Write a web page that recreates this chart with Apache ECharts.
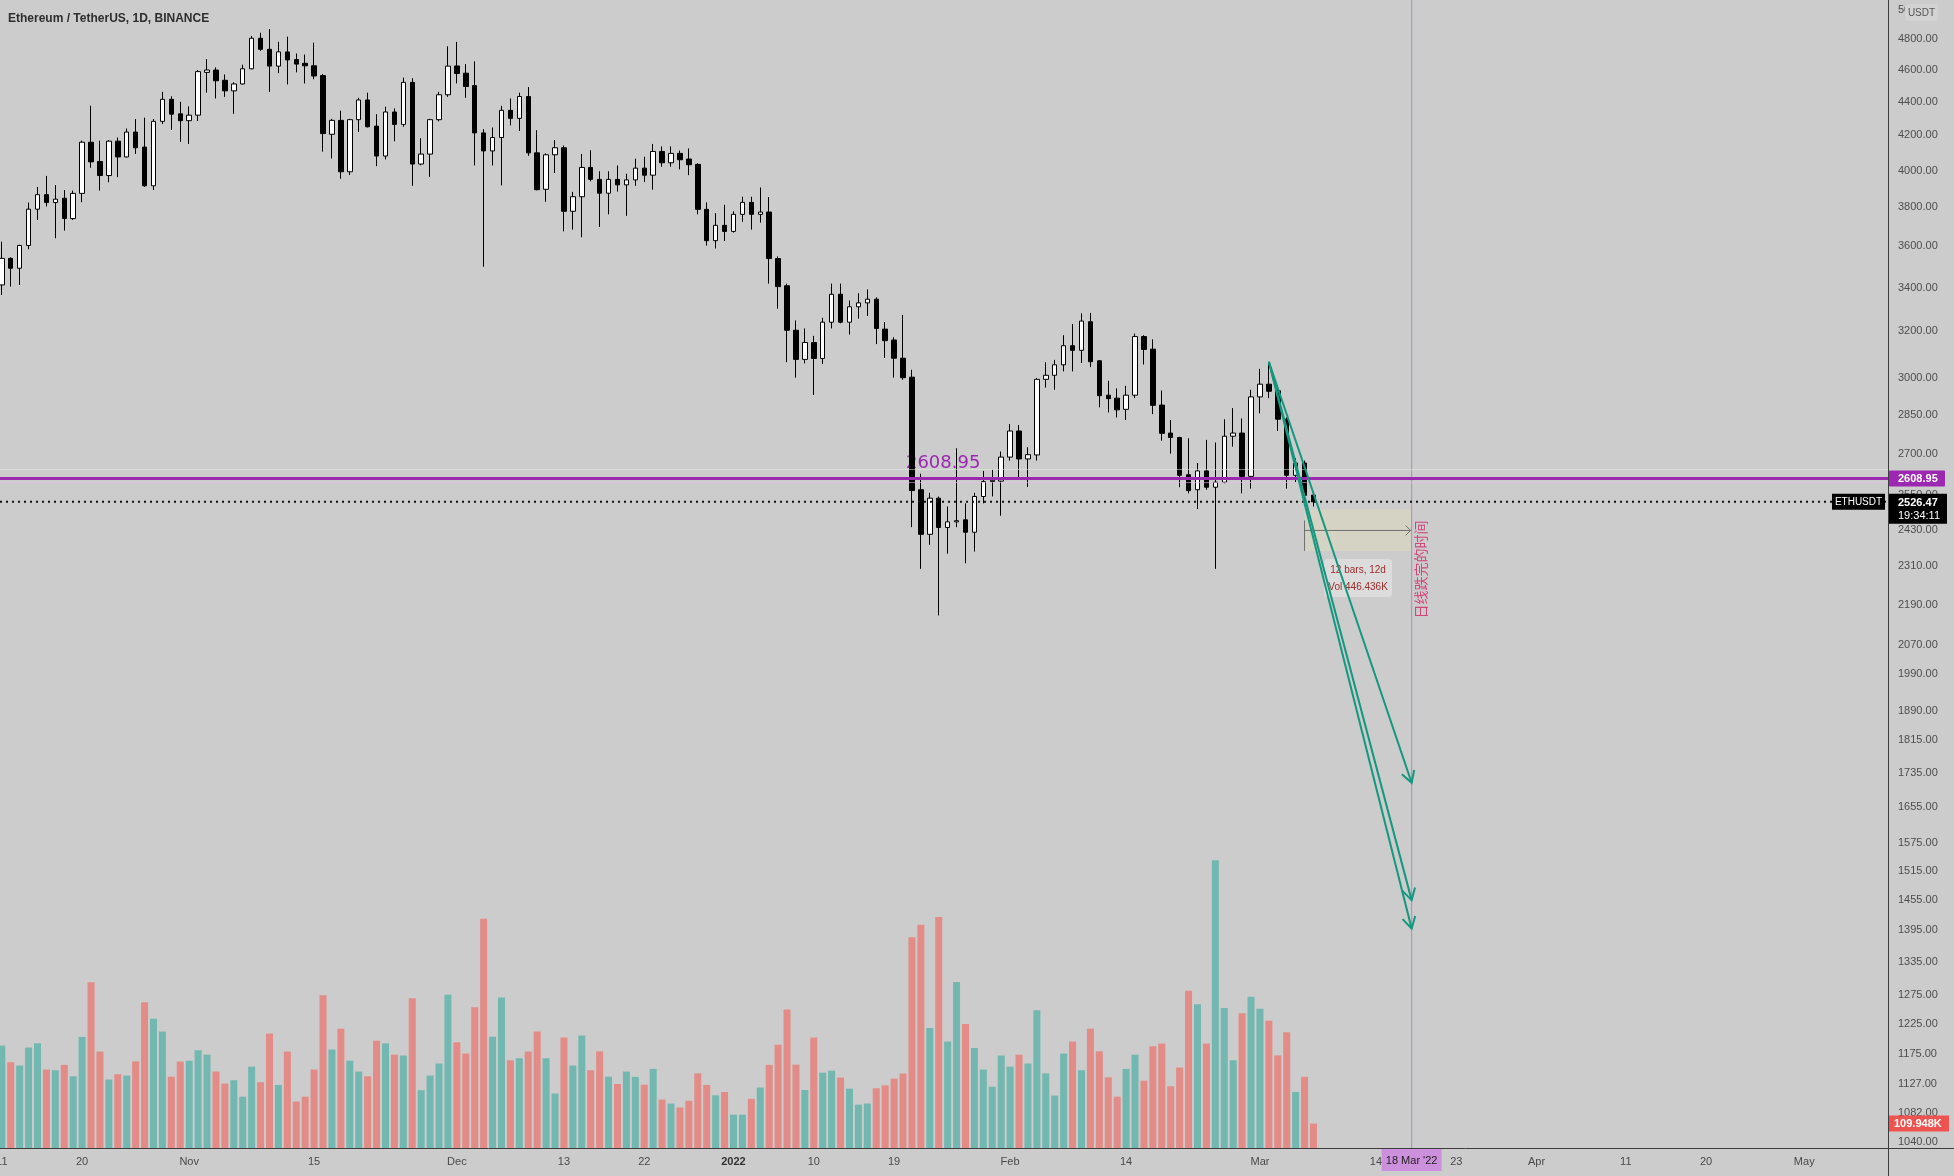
<!DOCTYPE html>
<html>
<head>
<meta charset="utf-8">
<script src="https://cdn.jsdelivr.net/npm/echarts@6/dist/echarts.min.js"></script>
<style>
html,body{margin:0;padding:0;background:#cccccc;}
#c{width:1954px;height:1176px;}
</style>
</head>
<body>
<div id="c"></div>
<script>
// ---------- consecutive trading days (category axis) ----------
const firstDay = '2021-10-11';
const dayCount = 212;
const dates = [];
(function () {
  const t0 = Date.parse(firstDay + 'T00:00:00Z');
  for (let i = 0; i < dayCount; i++) dates.push(new Date(t0 + i * 86400000).toISOString().slice(0, 10));
})();

// ---------- daily candles Oct 11 2021 .. Mar 7 2022 ----------
const open = [3413,3541,3493,3605,3791,3868,3826,3849,3742,3875,
4160,4050,3972,4166,4076,4219,4132,3916,4282,4415,
4327,4286,4319,4583,4598,4533,4467,4510,4606,4805,
4732,4623,4715,4665,4641,4625,4563,4206,4288,3993,
4292,4411,4254,4081,4338,4264,4520,4036,4092,4292,
4443,4624,4578,4500,4214,4110,4187,4348,4300,4432,
4099,3897,4088,4128,3780,3857,4017,3951,3876,3951,
3921,3948,4013,3974,4107,4043,4096,4064,4034,3790,
3629,3707,3676,3764,3827,3764,3776,3540,3409,3205,
3078,3151,3082,3241,3369,3241,3311,3329,3346,3210,
3162,3083,3003,2569,2415,2539,2438,2457,2464,2422,
2545,2598,2600,2688,2787,2681,2696,2994,3011,3055,
3137,3117,3243,3072,2929,2917,2872,2929,3177,3122,
2889,2779,2762,2623,2569,2637,2578,2596,2767,2779,
2617,2922,2974,2947,2833,2621,2666,2550];
const high = [3624,3546,3608,3826,3910,3970,3920,3893,3890,4169,
4376,4169,4173,4187,4240,4296,4304,4296,4461,4434,
4400,4372,4598,4668,4615,4570,4520,4632,4820,4842,
4867,4782,4816,4705,4698,4776,4573,4297,4346,4297,
4425,4456,4325,4370,4360,4550,4546,4183,4297,4461,
4752,4781,4636,4654,4236,4246,4375,4420,4456,4491,
4230,4096,4172,4141,3883,4093,4114,3996,3996,4028,
3982,4066,4077,4150,4136,4136,4112,4124,4040,3827,
3770,3814,3780,3857,3857,3907,3855,3551,3419,3249,
3213,3180,3261,3419,3419,3340,3374,3392,3355,3242,
3174,3274,3034,2627,2558,2545,2510,2721,2521,2558,
2637,2641,2709,2814,2810,2725,3000,3066,3076,3183,
3233,3281,3283,3075,2988,2957,2967,3190,3183,3165,
2948,2830,2765,2759,2666,2753,2743,2833,2877,2836,
2951,3038,3064,2971,2840,2684,2675,2556];
const low = [3366,3405,3413,3586,3735,3805,3641,3680,3735,3828,
4015,3890,3935,3963,4073,4093,3910,3893,4266,4231,
4162,4150,4284,4456,4420,4430,4327,4507,4603,4722,
4461,4578,4507,4583,4513,4540,4106,4067,3954,3975,
4220,4246,4024,4062,4165,4250,3916,4029,3965,4282,
4430,4513,4424,4028,3500,4028,3918,4258,4225,4082,
3891,3830,3986,3676,3685,3646,3940,3699,3764,3885,
3756,3916,3936,3895,4021,4021,4006,3974,3764,3604,
3590,3627,3670,3725,3685,3721,3419,3302,3066,3001,
3061,2930,3058,3213,3236,3186,3257,3269,3144,3084,
3001,2992,2439,2302,2380,2158,2351,2439,2320,2358,
2521,2545,2478,2675,2610,2579,2675,2960,2951,3027,
3027,3063,3045,2880,2860,2840,2830,2917,3056,2853,
2750,2701,2578,2556,2501,2569,2302,2592,2727,2556,
2573,2856,2917,2787,2573,2596,2525,2510];
const close = [3541,3493,3605,3791,3868,3826,3844,3742,3875,4160,
4048,3972,4166,4076,4219,4128,3916,4282,4415,4325,
4286,4319,4588,4598,4530,4467,4510,4606,4805,4732,
4623,4715,4663,4636,4625,4560,4210,4288,3993,4292,
4411,4250,4081,4338,4264,4520,4036,4092,4292,4443,
4623,4576,4494,4214,4110,4187,4348,4300,4432,4099,
3895,4088,4128,3780,3857,4017,3951,3876,3951,3921,
3948,4013,3974,4107,4043,4096,4060,4032,3790,3629,
3707,3676,3764,3827,3764,3776,3540,3405,3205,3078,
3151,3082,3241,3369,3241,3311,3329,3346,3213,3159,
3083,3001,2566,2415,2539,2438,2457,2461,2422,2545,
2598,2603,2688,2787,2681,2697,2994,3011,3055,3137,
3117,3246,3068,2927,2915,2870,2929,3177,3121,2888,
2778,2762,2621,2566,2637,2578,2596,2767,2779,2617,
2922,2974,2945,2833,2621,2666,2549,2526.47];
// volume in thousands (K)
const volumeK = [461,386,371,452,471,353,350,374,323,500,
746,434,308,332,326,390,656,582,524,321,
389,393,440,420,344,290,305,231,366,296,
515,284,434,209,231,353,687,443,537,393,
344,323,483,471,420,416,674,260,326,380,
690,476,425,633,1032,501,677,395,404,434,
524,404,245,497,371,506,350,435,321,288,
344,320,285,356,218,200,182,212,336,284,
237,252,150,150,221,272,374,465,623,375,
261,497,339,348,317,267,195,200,269,282,
312,335,948,1005,540,1040,479,747,558,450,
353,276,416,366,420,380,620,336,236,425,
479,350,537,435,318,231,356,420,303,458,
470,278,362,708,647,470,1295,630,395,606,
681,627,573,417,521,252,320,109.948];

// ---------- axis tick labels ----------
const xTickLabels = [['2021-10-11','11'],['2021-10-20','20'],['2021-11-01','Nov'],['2021-11-15','15'],
['2021-12-01','Dec'],['2021-12-13','13'],['2021-12-22','22'],['2022-01-01','2022'],['2022-01-10','10'],
['2022-01-19','19'],['2022-02-01','Feb'],['2022-02-14','14'],['2022-03-01','Mar'],['2022-03-14','14'],
['2022-03-23','23'],['2022-04-01','Apr'],['2022-04-11','11'],['2022-04-20','20'],['2022-05-01','May']];
const priceTicks = [5000,4800,4600,4400,4200,4000,3800,3600,3400,3200,3000,2850,2700,2550,2430,2310,
2190,2070,1990,1890,1815,1735,1655,1575,1515,1455,1395,1335,1275,1225,1175,1127,1082,1040];

// ---------- drawings ----------
const levelPrice = 2608.95;
const lastPrice = 2526.47;
const lastVolumeK = 109.948;
const projStart = ['2022-03-02', 3068];
const projEndDate = '2022-03-18';
const projTargets = [1711, 1454, 1398];
const rangeStartDate = '2022-03-06';
const rangeEndDate = '2022-03-18';
const rangeTop = 2500, rangeMid = 2428, rangeBottom = 2360;
const noteAnchor = ['2022-03-18', 2300];

// ---------- chart ----------
const UP_VOL = '#72b8b0', DOWN_VOL = '#e38b87';
const candleData = open.map((o, i) => [o, close[i], low[i], high[i]]);
const volData = volumeK.map((v, i) => ({ value: v, itemStyle: { color: close[i] >= open[i] ? UP_VOL : DOWN_VOL } }));

const W = 1954, H = 1176, AX = 1888, AY = 1148;
const chart = echarts.init(document.getElementById('c'), null, { renderer: 'canvas', width: W, height: H });
const FONT = 'Liberation Sans';
let gridLeft = 0, gridRight = W - AX;
chart.setOption({
  backgroundColor: '#cccccc',
  animation: false,
  textStyle: { fontFamily: FONT },
  title: { text: 'Ethereum / TetherUS, 1D, BINANCE', left: 3, top: 8,
    textStyle: { fontSize: 12, fontWeight: 'bold', color: '#2e2e2e', fontFamily: FONT } },
  grid: [
    { left: gridLeft, right: gridRight, top: 0, bottom: H - AY, outerBoundsMode: 'none', containLabel: false },
    { left: gridLeft, right: gridRight, top: AY - 300, bottom: H - AY, outerBoundsMode: 'none', containLabel: false }
  ],
  xAxis: [
    { type: 'category', gridIndex: 0, data: dates, boundaryGap: false,
      axisLine: { show: false }, axisTick: { show: false }, splitLine: { show: false }, axisLabel: { show: false } },
    { type: 'category', gridIndex: 1, data: dates, boundaryGap: false, show: false }
  ],
  yAxis: [
    { type: 'log', gridIndex: 0, position: 'right', min: 1031, max: 5067, logBase: 10, offset: 0,
      axisLine: { show: false }, axisTick: { show: false }, splitLine: { show: false },
      axisLabel: { customValues: priceTicks, formatter: v => Number(v).toFixed(2), color: '#4d4d4d',
        fontSize: 11, margin: 10, fontFamily: FONT } },
    { type: 'value', gridIndex: 1, min: 0, max: 1350, show: false, splitLine: { show: false } }
  ],
  series: [
    { type: 'bar', xAxisIndex: 1, yAxisIndex: 1, data: volData, barWidth: 7, z: 1, silent: true },
    { type: 'candlestick', xAxisIndex: 0, yAxisIndex: 0, data: candleData, barWidth: 5, z: 3, silent: true,
      itemStyle: { color: '#ffffff', color0: '#000000', borderColor: '#000000', borderColor0: '#000000', borderWidth: 1 } }
  ]
});

// ---------- align the day scale with the reference's time axis ----------
// first day sits at x≈1.8, one day ≈ 8.923px  (iterated to absorb any fixed padding)
const idxRef = dates.indexOf('2022-03-18');
for (let it = 0; it < 4; it++) {
  const wd = W - gridLeft - gridRight;
  const xa = chart.convertToPixel({ gridIndex: 0 }, [0, 3000])[0];
  const xb = chart.convertToPixel({ gridIndex: 0 }, [idxRef, 3000])[0];
  const ua = (xa - gridLeft) / wd, ub = (xb - gridLeft) / wd;
  const wn = (idxRef * 8.923) / (ub - ua);
  const ln = 1.8 - wn * ua;
  const rn = W - ln - wn;
  gridLeft = ln; gridRight = rn;
  chart.setOption({
    grid: [{ left: ln, right: rn }, { left: ln, right: rn }],
    yAxis: [{ offset: AX - (W - rn) }]
  });
}

// ---------- overlays placed through the chart's own scales ----------
const P = (d, p) => chart.convertToPixel({ gridIndex: 0 }, [dates.indexOf(d), p]);
const VY = v => chart.convertToPixel({ gridIndex: 1 }, [0, v])[1];
const TEAL = '#14977f', PURPLE = '#9c27b0';
const g = [];
function chevron(x1, y1, x2, y2, len, ang) {
  const a = Math.atan2(y2 - y1, x2 - x1);
  return [[x2 - len * Math.cos(a - ang), y2 - len * Math.sin(a - ang)], [x2, y2],
          [x2 - len * Math.cos(a + ang), y2 - len * Math.sin(a + ang)]];
}
const yLevel = P(dates[0], levelPrice)[1];
const yLast = P(dates[0], lastPrice)[1];
const xEnd = P(projEndDate, 2000)[0];

// time-axis labels at the day positions
xTickLabels.forEach(([d, t]) => {
  g.push({ type: 'text', z: 20, silent: true, x: P(d, 3000)[0], y: AY + 14,
    style: { text: t, fill: t === '2022' ? '#333' : '#4a4a4a', font: (t === '2022' ? 'bold ' : '') + '11px "Liberation Sans"',
      textAlign: 'center', textVerticalAlign: 'middle' } });
});

// level label (behind candles)
const lvlAnchor = P('2022-01-21', levelPrice);
g.push({ type: 'text', z: 1, silent: true, x: lvlAnchor[0] - 6, y: yLevel - 6,
  style: { text: levelPrice.toFixed(2), fill: PURPLE, font: '18px "DejaVu Sans"', textAlign: 'left', textVerticalAlign: 'bottom' } });

// vertical time marker
g.push({ type: 'line', z: 9, silent: true, shape: { x1: xEnd, y1: 0, x2: xEnd, y2: AY }, style: { stroke: '#b088c8', lineWidth: 1 } });

// level line
g.push({ type: 'line', z: 10, silent: true, shape: { x1: 0, y1: yLevel - 9, x2: AX, y2: yLevel - 9 }, style: { stroke: 'rgba(232,236,226,0.55)', lineWidth: 1 } });
g.push({ type: 'line', z: 10, silent: true, shape: { x1: 0, y1: yLevel + 4, x2: AX, y2: yLevel + 4 }, style: { stroke: 'rgba(226,196,228,0.6)', lineWidth: 1 } });
g.push({ type: 'line', z: 11, silent: true, shape: { x1: 0, y1: yLevel, x2: AX, y2: yLevel }, style: { stroke: PURPLE, lineWidth: 3 } });

// last price dotted line
g.push({ type: 'line', z: 11, silent: true, shape: { x1: 0, y1: yLast, x2: AX, y2: yLast }, style: { stroke: '#111', lineWidth: 2, lineDash: [2, 4] } });

// date range tool
const rx1 = P(rangeStartDate, rangeTop)[0], rx2 = P(rangeEndDate, rangeTop)[0];
const ry1 = P(rangeStartDate, rangeTop)[1], ry2 = P(rangeStartDate, rangeBottom)[1], rym = P(rangeStartDate, rangeMid)[1];
g.push({ type: 'rect', z: 8, silent: true, shape: { x: rx1, y: ry1, width: rx2 - rx1, height: ry2 - ry1 }, style: { fill: 'rgba(222,219,188,0.5)' } });
g.push({ type: 'line', z: 9, silent: true, shape: { x1: rx1, y1: rym, x2: rx2 - 1, y2: rym }, style: { stroke: '#6e6e6e', lineWidth: 1 } });
g.push({ type: 'polyline', z: 9, silent: true, shape: { points: chevron(rx1, rym, rx2 - 1, rym, 7, Math.PI / 4) }, style: { stroke: '#6e6e6e', lineWidth: 1, fill: null } });
g.push({ type: 'line', z: 9, silent: true, shape: { x1: rx1, y1: rym - 10, x2: rx1, y2: ry2 }, style: { stroke: '#6e6e6e', lineWidth: 1 } });
const boxCx = (rx1 + rx2) / 2;
g.push({ type: 'rect', z: 12, silent: true, shape: { x: boxCx - 34, y: ry2 + 8, width: 68, height: 38, r: 3 }, style: { fill: 'rgba(222,222,222,0.85)' } });
g.push({ type: 'text', z: 13, silent: true, x: boxCx, y: ry2 + 19, style: { text: '12 bars, 12d', fill: '#9b2b2b', font: '10px "Liberation Sans"', textAlign: 'center', textVerticalAlign: 'middle' } });
g.push({ type: 'text', z: 13, silent: true, x: boxCx, y: ry2 + 36, style: { text: 'Vol 446.436K', fill: '#9b2b2b', font: '10px "Liberation Sans"', textAlign: 'center', textVerticalAlign: 'middle' } });

// projection arrows
const ps = P(projStart[0], projStart[1]);
projTargets.forEach(t => {
  const pe = P(projEndDate, t);
  g.push({ type: 'line', z: 14, silent: true, shape: { x1: ps[0], y1: ps[1], x2: pe[0], y2: pe[1] }, style: { stroke: TEAL, lineWidth: 2 } });
  g.push({ type: 'polyline', z: 14, silent: true, shape: { points: chevron(ps[0], ps[1], pe[0], pe[1], 13, Math.PI / 6) }, style: { stroke: TEAL, lineWidth: 2, fill: null } });
});

// vertical note
const na = P(noteAnchor[0], noteAnchor[1]);
g.push({ type: 'text', z: 13, silent: true, x: na[0] + 9, y: na[1], rotation: Math.PI / 2,
  style: { text: '日线跌完的时间', fill: '#d2467c', font: '14px "Noto Sans CJK SC"', textAlign: 'center', textVerticalAlign: 'middle' } });

// axis lines
g.push({ type: 'line', z: 20, silent: true, shape: { x1: 0, y1: AY + 0.5, x2: W, y2: AY + 0.5 }, style: { stroke: '#3c3c3c', lineWidth: 1 } });
g.push({ type: 'line', z: 20, silent: true, shape: { x1: AX + 0.5, y1: 0, x2: AX + 0.5, y2: H }, style: { stroke: '#3c3c3c', lineWidth: 1 } });

// price axis tags
g.push({ type: 'rect', z: 21, silent: true, shape: { x: 1905, y: 4, width: 33, height: 17, r: 2 }, style: { fill: '#d3d3d3' } });
g.push({ type: 'text', z: 22, silent: true, x: 1921.5, y: 13, style: { text: 'USDT', fill: '#555', font: '10px "Liberation Sans"', textAlign: 'center', textVerticalAlign: 'middle' } });

g.push({ type: 'rect', z: 21, silent: true, shape: { x: AX + 1, y: yLevel - 8, width: 56, height: 16, r: 1 }, style: { fill: PURPLE } });
g.push({ type: 'text', z: 22, silent: true, x: AX + 10, y: yLevel, style: { text: levelPrice.toFixed(2), fill: '#fff', font: 'bold 11px "Liberation Sans"', textAlign: 'left', textVerticalAlign: 'middle' } });

g.push({ type: 'rect', z: 21, silent: true, shape: { x: AX + 1, y: yLast - 8, width: 58, height: 30 }, style: { fill: '#000' } });
g.push({ type: 'text', z: 22, silent: true, x: AX + 10, y: yLast + 1, style: { text: lastPrice.toFixed(2), fill: '#fff', font: 'bold 11px "Liberation Sans"', textAlign: 'left', textVerticalAlign: 'middle' } });
g.push({ type: 'text', z: 22, silent: true, x: AX + 10, y: yLast + 14, style: { text: '19:34:11', fill: '#fff', font: '11px "Liberation Sans"', textAlign: 'left', textVerticalAlign: 'middle' } });
g.push({ type: 'rect', z: 21, silent: true, shape: { x: 1832, y: yLast - 8, width: 53, height: 16 }, style: { fill: '#000' } });
g.push({ type: 'text', z: 22, silent: true, x: 1858.5, y: yLast, style: { text: 'ETHUSDT', fill: '#fff', font: '10px "Liberation Sans"', textAlign: 'center', textVerticalAlign: 'middle' } });

const yVol = VY(lastVolumeK);
g.push({ type: 'rect', z: 21, silent: true, shape: { x: AX + 1, y: yVol - 8, width: 60, height: 16 }, style: { fill: '#ef5350' } });
g.push({ type: 'text', z: 22, silent: true, x: AX + 6, y: yVol, style: { text: lastVolumeK.toFixed(3) + 'K', fill: '#fff', font: 'bold 11px "Liberation Sans"', textAlign: 'left', textVerticalAlign: 'middle' } });

// time axis tag
g.push({ type: 'rect', z: 21, silent: true, shape: { x: xEnd - 30, y: AY + 1, width: 60, height: 22 }, style: { fill: '#cc90dc' } });
g.push({ type: 'text', z: 22, silent: true, x: xEnd, y: AY + 13, style: { text: "18 Mar '22", fill: '#1e1e1e', font: '11px "Liberation Sans"', textAlign: 'center', textVerticalAlign: 'middle' } });

chart.setOption({ graphic: { elements: g } });
</script>
</body>
</html>
